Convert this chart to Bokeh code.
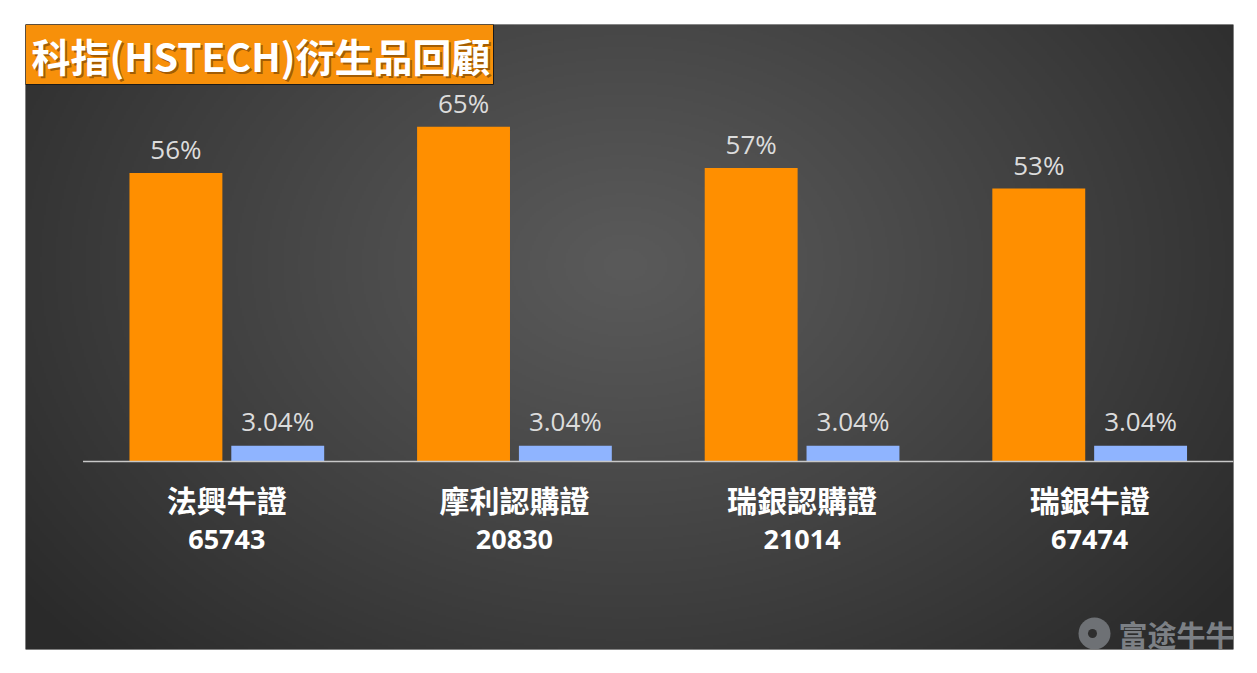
import numpy as np
from bokeh.plotting import figure
from bokeh.models import Range1d, ColumnDataSource
from bokeh.core.properties import value
from bokeh.embed import file_html
from bokeh.resources import INLINE

# ---- data ----
categories = ["法興牛證", "摩利認購證", "瑞銀認購證", "瑞銀牛證"]
codes = ["65743", "20830", "21014", "67474"]
orange_values = [56, 65, 57, 53]
blue_values = [3.04, 3.04, 3.04, 3.04]
orange_labels = ["56%", "65%", "57%", "53%"]
blue_labels = ["3.04%", "3.04%", "3.04%", "3.04%"]
title_text = "科指(HSTECH)衍生品回顧"
watermark_text = "富途牛牛"

# ---- layout ----
FL, FT, FR, FB = 25, 24, 16, 16
FW, FH = 1208, 625
W, H = FL + FW + FR, FT + FH + FB
x0, x1 = -0.2, 4.0
y0, y1 = -36.5, 84.85

def px2x(px):
    return x0 + (px - FL) / FW * (x1 - x0)

def py2y(py):
    return y1 - (py - FT) / FH * (y1 - y0)

p = figure(width=W, height=H, x_range=Range1d(x0, x1), y_range=Range1d(y0, y1),
           x_axis_type=None, y_axis_type=None, toolbar_location=None,
           output_backend="svg", min_border_left=FL, min_border_right=FR,
           min_border_top=FT, min_border_bottom=FB, outline_line_color=None,
           border_fill_color="white", background_fill_color="#3a3a3a")

# ---- radial gradient background ----
nx, ny = 604, 313
xs = (np.arange(nx) + 0.5) * FW / nx
ys_top = FH - (np.arange(ny) + 0.5) * FH / ny
X, Y = np.meshgrid(xs, ys_top)
dx = (X - 600) / 760.0
dy = (Y - 240) / 560.0
t = np.clip(np.sqrt(dx ** 2 + dy ** 2), 0, 1)
g = (90 - (90 - 42) * t ** 1.1).astype(np.uint8)
img = np.empty((ny, nx), dtype=np.uint32)
view = img.view(dtype=np.uint8).reshape((ny, nx, 4))
view[..., 0] = g
view[..., 1] = g
view[..., 2] = g
view[..., 3] = 255
p.image_rgba(image=[img], x=x0, y=y0, dw=x1 - x0, dh=y1 - y0)

# ---- bars ----
n = len(categories)
centers = [i + 0.5 for i in range(n)]
off = 0.177
bw = 0.323
src = ColumnDataSource(dict(
    xo=[c - off for c in centers], xb=[c + off for c in centers],
    vo=orange_values, vb=blue_values, lo=orange_labels, lb=blue_labels,
    xc=centers, cat=categories, code=codes))

p.vbar(x="xo", top="vo", bottom=0, width=bw, source=src,
       fill_color="#FF8F00", line_color=None)
p.vbar(x="xb", top="vb", bottom=0, width=bw, source=src,
       fill_color="#8FB4FF", line_color=None)

# baseline
p.segment(x0=[0], y0=[0], x1=[n], y1=[0], line_color="#c8c8c8", line_width=1.5)

# value labels
p.text(x="xo", y="vo", text="lo", source=src, text_align="center",
       text_baseline="middle", y_offset=-24, text_color="#dcdcdc",
       text_font=value("Open Sans"), text_font_size="26px")
p.text(x="xb", y="vb", text="lb", source=src, text_align="center",
       text_baseline="middle", y_offset=-25, text_color="#dcdcdc",
       text_font=value("Open Sans"), text_font_size="26px")

# category labels
p.text(x="xc", y=0, text="cat", source=src, text_align="center",
       text_baseline="middle", y_offset=37, text_color="#ffffff",
       text_font=value("Noto Sans CJK TC"), text_font_style="bold",
       text_font_size="30px")
p.text(x="xc", y=0, text="code", source=src, text_align="center",
       text_baseline="middle", y_offset=78, text_color="#ffffff",
       text_font=value("Open Sans"), text_font_style="bold",
       text_font_size="27px")

# ---- title box ----
p.quad(left=[x0], right=[px2x(493)], top=[y1], bottom=[py2y(84)],
       fill_color="#F7900A", line_color="#1a1a1a", line_width=1)
p.text(x=[px2x(33)], y=[py2y(56)], text=[title_text], text_align="left",
       text_baseline="middle", text_color="#5a3000", text_alpha=0.55,
       text_font=value("Noto Sans CJK TC"), text_font_style="bold",
       text_font_size="39px")
p.text(x=[px2x(31)], y=[py2y(54)], text=[title_text], text_align="left",
       text_baseline="middle", text_color="#ffffff",
       text_font=value("Noto Sans CJK TC"), text_font_style="bold",
       text_font_size="39px")

# ---- watermark ----
p.scatter(x=[px2x(1094)], y=[py2y(633)], size=32, marker="circle",
          fill_color="#75797d", line_color=None, fill_alpha=0.9)
p.scatter(x=[px2x(1092)], y=[py2y(633)], size=9, marker="circle",
          fill_color="#2e2e2e", line_color=None)
p.text(x=[px2x(1118)], y=[py2y(633)], text=[watermark_text], text_align="left",
       text_baseline="middle", text_color="#7c8085",
       text_font=value("Noto Sans CJK SC"), text_font_style="bold",
       text_font_size="29px")

open("out.html", "w").write(file_html(p, INLINE))
